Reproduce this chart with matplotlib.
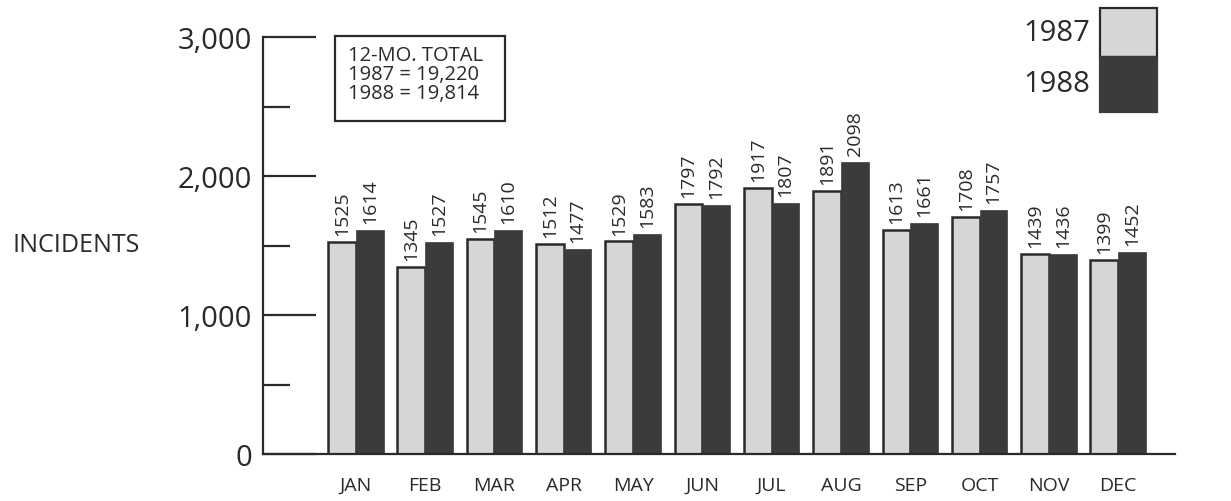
import matplotlib.pyplot as plt
from matplotlib.patches import Rectangle
from matplotlib.ticker import MultipleLocator, FuncFormatter
import numpy as np

months = ["JAN", "FEB", "MAR", "APR", "MAY", "JUN", "JUL", "AUG", "SEP", "OCT", "NOV", "DEC"]
inc_1987 = [1525, 1345, 1545, 1512, 1529, 1797, 1917, 1891, 1613, 1708, 1439, 1399]
inc_1988 = [1614, 1527, 1610, 1477, 1583, 1792, 1807, 2098, 1661, 1757, 1436, 1452]
years = ["1987", "1988"]
total_note = "12-MO. TOTAL\n1987 = 19,220\n1988 = 19,814"

light = "#d6d6d6"
dark = "#3b3b3b"
ink = "#2a2a2a"

plt.rcParams['font.family'] = ['Open Sans', 'DejaVu Sans']

fig = plt.figure(figsize=(12.31, 5.02), dpi=100)
ax = fig.add_axes([263 / 1231, 47 / 502, 912 / 1231, 417 / 502])

x = np.arange(len(months))
w = 0.4
ax.bar(x - w / 2, inc_1987, w, color=light, edgecolor=ink, linewidth=1.8, zorder=2)
ax.bar(x + w / 2, inc_1988, w, color=dark, edgecolor=dark, linewidth=0.5, zorder=2)

for i in range(len(months)):
    ax.annotate(str(inc_1987[i]), (x[i] - w / 2, inc_1987[i]), xytext=(0, 5),
                textcoords="offset points", rotation=90, ha="center", va="bottom",
                fontsize=14, color=ink)
    ax.annotate(str(inc_1988[i]), (x[i] + w / 2, inc_1988[i]), xytext=(0, 5),
                textcoords="offset points", rotation=90, ha="center", va="bottom",
                fontsize=14, color=ink)

ax.set_xlim(-1.34, 11.82)
ax.set_ylim(0, 3000)
ax.set_xticks(x)
ax.set_xticklabels(months, fontsize=14, color=ink)
ax.tick_params(axis="x", length=0, pad=16)

ax.yaxis.set_major_locator(MultipleLocator(1000))
ax.yaxis.set_minor_locator(MultipleLocator(500))
ax.yaxis.set_major_formatter(FuncFormatter(lambda v, p: f"{int(v):,}"))
ax.tick_params(axis="y", which="major", direction="in", length=38, width=1.6,
               color=ink, labelsize=21, labelcolor=ink, pad=8)
ax.tick_params(axis="y", which="minor", direction="in", length=19.5, width=1.6, color=ink)

for s in ["top", "right"]:
    ax.spines[s].set_visible(False)
for s in ["left", "bottom"]:
    ax.spines[s].set_linewidth(1.6)
    ax.spines[s].set_color(ink)

fig.text(76 / 1231, 1 - 246 / 502, "INCIDENTS", ha="center", va="center",
         fontsize=18, color=ink)

# total box
fig.patches.append(Rectangle((335 / 1231, 1 - 122 / 502), 170 / 1231, 85 / 502,
                             transform=fig.transFigure, fill=False, edgecolor=ink,
                             linewidth=1.6))
fig.text(348 / 1231, 1 - 46 / 502, total_note, ha="left", va="top", fontsize=14.5,
         color=ink, linespacing=0.95)

# legend
fig.patches.append(Rectangle((1100 / 1231, 1 - 58 / 502), 57 / 1231, 49 / 502,
                             transform=fig.transFigure, facecolor=light,
                             edgecolor=ink, linewidth=1.6))
fig.patches.append(Rectangle((1100 / 1231, 1 - 113 / 502), 57 / 1231, 55 / 502,
                             transform=fig.transFigure, facecolor=dark,
                             edgecolor=dark, linewidth=1.6))
fig.text(1090 / 1231, 1 - 34 / 502, years[0], ha="right", va="center", fontsize=21, color=ink)
fig.text(1090 / 1231, 1 - 84 / 502, years[1], ha="right", va="center", fontsize=21, color=ink)

fig.savefig("out.png", dpi=100)
